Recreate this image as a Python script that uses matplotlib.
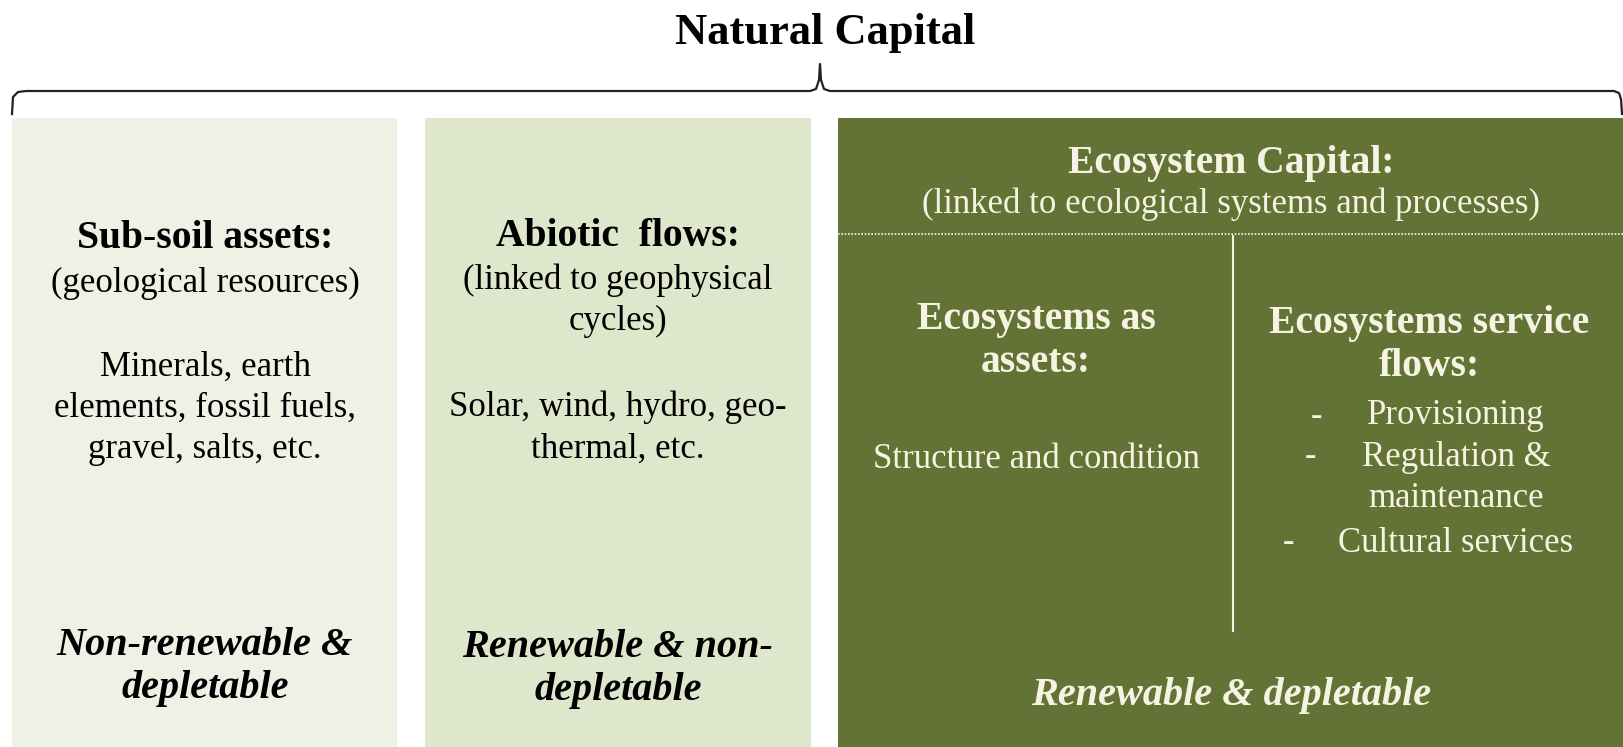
import matplotlib
matplotlib.use("Agg")
from matplotlib import pyplot as plt
from matplotlib.patches import Rectangle

# Texts
title = "Natural Capital"
col_heads = ["Sub-soil assets:", "Abiotic  flows:"]
col_subs = ["(geological resources)", "(linked to geophysical\ncycles)"]
col_items = ["Minerals, earth\nelements, fossil fuels,\ngravel, salts, etc.",
             "Solar, wind, hydro, geo-\nthermal, etc."]
col_nature = ["Non-renewable &\ndepletable", "Renewable & non-\ndepletable"]
eco_head = "Ecosystem Capital:"
eco_sub = "(linked to ecological systems and processes)"
eco_left_head = "Ecosystems as\nassets:"
eco_left_item = "Structure and condition"
eco_right_head = "Ecosystems service\nflows:"
eco_services = ["Provisioning", "Regulation &\nmaintenance", "Cultural services"]
eco_nature = "Renewable & depletable"

colors = ["#eef2e4", "#dee7cb", "#627335"]
light = "#f6f3e2"

plt.rcParams['font.family'] = ['Liberation Serif', 'DejaVu Serif']

fig = plt.figure(figsize=(16.23, 7.47), dpi=100)
ax = fig.add_axes([0, 0, 1, 1])
ax.set_xlim(0, 1623)
ax.set_ylim(747, 0)
ax.axis("off")

# boxes
boxes = [(12, 397), (425, 811), (838, 1623)]
for (x0, x1), c in zip(boxes, colors):
    ax.add_patch(Rectangle((x0, 118), x1 - x0, 747 - 118, color=c, lw=0))

# brace
bx = [12, 13, 18, 26, 810, 816, 819, 820, 821, 824, 830, 1614, 1619, 1621, 1622]
by = [114, 97, 92, 91, 91, 89, 80, 64, 80, 89, 91, 91, 93, 99, 114]
ax.plot(bx, by, color="#222222", lw=1.6, solid_joinstyle="round")
ax.text(825, 33, title, ha="center", va="center", fontsize=32, fontweight="bold")

body = 25
head = 28.5
nat = 29
ls = 1.32
d = 3  # small downward nudge

# left columns
cx = [205, 618]
ax.text(cx[0], 236 + d, col_heads[0], ha="center", va="center", fontsize=head, fontweight="bold")
ax.text(cx[1], 234 + d, col_heads[1], ha="center", va="center", fontsize=head, fontweight="bold")
ax.text(cx[0], 280 + d, col_subs[0], ha="center", va="center", fontsize=body)
ax.text(cx[1], 298 + d, col_subs[1], ha="center", va="center", fontsize=body, linespacing=ls)
ax.text(cx[0], 405 + d, col_items[0], ha="center", va="center", fontsize=body, linespacing=ls)
ax.text(cx[1], 425 + d, col_items[1], ha="center", va="center", fontsize=body, linespacing=ls)
ax.text(cx[0], 664 + d, col_nature[0], ha="center", va="center", fontsize=nat,
        fontweight="bold", style="italic", linespacing=1.23)
ax.text(cx[1], 666 + d, col_nature[1], ha="center", va="center", fontsize=nat,
        fontweight="bold", style="italic", linespacing=1.23)

# ecosystem box
ax.text(1231, 160 + d, eco_head, ha="center", va="center", fontsize=head, fontweight="bold", color=light)
ax.text(1231, 201 + d, eco_sub, ha="center", va="center", fontsize=body, color=light)
ax.plot([838, 1623], [234, 234], color=light, lw=1.2, ls=(0, (1, 1)))
ax.plot([1233, 1233], [236, 631], color=light, lw=1.5)
ax.text(1036, 338 + d, eco_left_head, ha="center", va="center", fontsize=head, fontweight="bold",
        color=light, linespacing=1.22)
ax.text(1036, 457 + d, eco_left_item, ha="center", va="center", fontsize=body, color=light)
ax.text(1429, 342 + d, eco_right_head, ha="center", va="center", fontsize=head, fontweight="bold",
        color=light, linespacing=1.22)
svc_y = [413, 475, 540]
dash_x = [1316, 1311, 1288]
for s, y, dx in zip(eco_services, svc_y, dash_x):
    first_y = y - 21 if "\n" in s else y
    ax.text(dx, first_y + d, "-", ha="center", va="center", fontsize=body, color=light)
    ax.text(1456, y + d, s, ha="center", va="center", fontsize=body, color=light, linespacing=ls)
ax.text(1231, 693 + d, eco_nature, ha="center", va="center", fontsize=nat, fontweight="bold",
        style="italic", color=light)

fig.savefig("out.png", dpi=100)
